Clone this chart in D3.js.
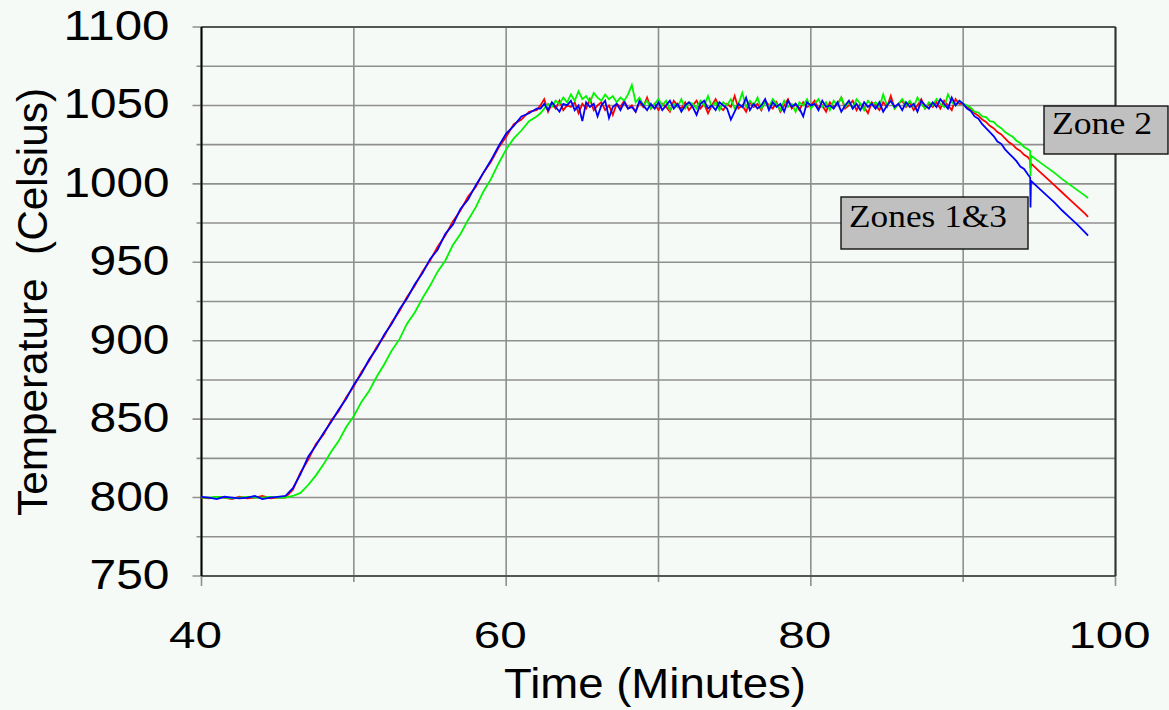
<!DOCTYPE html>
<html lang="en">
<head>
<meta charset="UTF-8">
<title>Furnace Zone Temperatures</title>
<script src="https://d3js.org/d3.v7.min.js"></script>
<style>
  html, body { margin: 0; padding: 0; background: #f6faf7; }
  svg { display: block; }
  .lbl { font-family: "Liberation Sans", Arial, sans-serif; fill: #000; }
  .zone { font-family: "Liberation Serif", "Times New Roman", serif; font-size: 31px; fill: #000; }
  .trace { fill: none; stroke-width: 1.8px; stroke-linejoin: miter; }
</style>
</head>
<body>
<svg width="1169" height="710"></svg>
<script>
// sample times (minutes)
const minutes = [
  40, 40.5, 41, 41.5, 42, 42.5, 43, 43.5, 44, 44.5, 45,
  45.5, 46, 46.5, 47, 47.5, 48, 48.5, 49, 49.5, 50,
  50.5, 51, 51.5, 52, 52.5, 53, 53.5, 54, 54.5, 55,
  55.5, 56, 56.5, 57, 57.5, 58, 58.5, 59, 59.5, 60,
  60.5, 61, 61.5, 62,
  62.25, 62.5, 62.75, 63, 63.25, 63.5, 63.75, 64,
  64.25, 64.5, 64.75, 65, 65.25, 65.5, 65.75, 66,
  66.25, 66.5, 66.75, 67, 67.25, 67.5, 67.75, 68,
  68.25, 68.5, 68.75, 69, 69.25, 69.5, 69.75, 70,
  70.25, 70.5, 70.75, 71, 71.25, 71.5, 71.75, 72,
  72.25, 72.5, 72.75, 73, 73.25, 73.5, 73.75, 74,
  74.25, 74.5, 74.75, 75, 75.25, 75.5, 75.75, 76,
  76.25, 76.5, 76.75, 77, 77.25, 77.5, 77.75, 78,
  78.25, 78.5, 78.75, 79, 79.25, 79.5, 79.75, 80,
  80.25, 80.5, 80.75, 81, 81.25, 81.5, 81.75, 82,
  82.25, 82.5, 82.75, 83, 83.25, 83.5, 83.75, 84,
  84.25, 84.5, 84.75, 85, 85.25, 85.5, 85.75, 86,
  86.25, 86.5, 86.75, 87, 87.25, 87.5, 87.75, 88,
  88.25, 88.5, 88.75, 89, 89.25, 89.5, 89.75, 90,
  90.25, 90.5, 90.75, 91, 91.25, 91.5, 91.75, 92,
  92.25, 92.5, 92.75, 93, 93.25, 93.5, 93.75, 94, 94.25,
  94.4, 94.42, 94.45, 95, 95.5, 96, 96.5, 97, 97.5, 98, 98.2
];

// zone 1 (red)
const zone1 = [
  800, 799.5, 800.5, 800, 799, 800.5, 799.5, 800, 801, 799.5, 800,
  800, 805, 816, 824, 834, 840, 849, 855, 864, 871,
  880, 887, 896, 903, 912, 919, 928, 935, 944, 951,
  960, 967, 976, 983, 992, 998, 1007, 1014, 1023, 1030,
  1038, 1041, 1046, 1047,
  1050, 1054, 1046, 1051, 1048, 1053, 1047, 1050,
  1049, 1052, 1045, 1051, 1048, 1054, 1047, 1050,
  1052, 1047, 1050, 1044, 1051, 1049, 1053, 1048,
  1050, 1046, 1052, 1049, 1055, 1048, 1051, 1047,
  1051, 1049, 1046, 1053, 1050, 1048, 1052, 1047,
  1050, 1053, 1048, 1051, 1045, 1050, 1054, 1049,
  1047, 1051, 1049, 1056, 1048, 1050, 1046, 1052,
  1049, 1051, 1047, 1053, 1050, 1048, 1052, 1046,
  1050, 1054, 1048, 1051, 1047, 1052, 1049, 1050,
  1053, 1048, 1050, 1046, 1052, 1049, 1051, 1055,
  1048, 1050, 1053, 1047, 1051, 1049, 1045, 1052,
  1050, 1047, 1052, 1049, 1056, 1048, 1051, 1053,
  1049, 1052, 1047, 1050, 1054, 1048, 1051, 1049,
  1052, 1048, 1053, 1050, 1047, 1054, 1051, 1051,
  1049, 1047.5, 1045, 1043.5, 1041, 1039.5, 1037, 1035.5,
  1033, 1031.5, 1029, 1026.5, 1025, 1022.5, 1021, 1018.5, 1017,
  1015, 1010, 1013, 1008, 1003.5, 999, 994.5, 990, 985.5, 981, 979
];

// zone 2 (green)
const zone2 = [
  800, 800, 800.5, 800, 799.5, 800, 800.5, 800, 800, 800.5, 800,
  800, 801, 803, 808, 814, 821, 829, 836, 845, 852,
  861, 868, 877, 885, 894, 901, 911, 918, 927, 935,
  944, 951, 961, 968, 977, 985, 995, 1003, 1013, 1022,
  1029, 1034, 1040, 1043,
  1045, 1048, 1051, 1049, 1053, 1051, 1055, 1052,
  1057, 1053, 1059, 1054, 1056, 1052, 1058, 1055,
  1053, 1057, 1054, 1056, 1052, 1055, 1053, 1057,
  1063, 1052, 1055, 1050, 1053, 1048, 1051, 1054,
  1050, 1053, 1047, 1051, 1049, 1054, 1048, 1052,
  1051, 1048, 1053, 1050, 1056, 1049, 1052, 1047,
  1052, 1050, 1054, 1048, 1051, 1058, 1049, 1053,
  1050, 1055, 1048, 1052, 1049, 1054, 1051, 1047,
  1053, 1049, 1051, 1046, 1052, 1050, 1054, 1048,
  1051, 1054, 1049, 1052, 1047, 1053, 1050, 1055,
  1049, 1052, 1048, 1054, 1051, 1047, 1053, 1050,
  1052, 1049, 1057, 1050, 1053, 1048, 1051, 1054,
  1050, 1053, 1049, 1055, 1051, 1048, 1052, 1050,
  1054, 1051, 1049, 1057, 1052, 1050, 1053, 1051,
  1050, 1048.5, 1046, 1045.5, 1043, 1042.5, 1040, 1039.5,
  1037, 1035.5, 1033, 1031.5, 1030, 1027.5, 1026, 1023.5, 1022,
  1021, 1005, 1018, 1014, 1010.5, 1007, 1003, 999.5, 996, 992.5, 991
];

// zone 3 (blue)
const zone3 = [
  800.5, 800, 799, 800.5, 800, 799.5, 800, 801, 799, 800, 800.5,
  801, 806, 815, 826, 833, 841, 848, 856, 863, 872,
  879, 888, 895, 904, 911, 920, 927, 936, 943, 952,
  958, 968, 974, 984, 990, 999, 1007, 1015, 1024, 1032,
  1037, 1043, 1045, 1048,
  1048, 1051, 1047, 1052, 1049, 1046, 1051, 1050,
  1053, 1047, 1050, 1040, 1052, 1049, 1051, 1043,
  1050, 1053, 1042, 1049, 1051, 1047, 1052, 1048,
  1049, 1046, 1053, 1050, 1047, 1051, 1048, 1052,
  1047, 1050, 1053, 1048, 1051, 1046, 1050, 1052,
  1049, 1044, 1051, 1053, 1048, 1050, 1047, 1052,
  1050, 1048, 1041, 1046, 1051, 1049, 1055, 1047,
  1051, 1048, 1050, 1054, 1047, 1052, 1049, 1051,
  1046, 1053, 1049, 1051, 1048, 1043, 1052, 1050,
  1051, 1047, 1053, 1049, 1050, 1048, 1052, 1046,
  1050, 1053, 1048, 1051, 1047, 1052, 1049, 1051,
  1048, 1052, 1046, 1050, 1053, 1049, 1051, 1047,
  1052, 1049, 1051, 1046, 1053, 1050, 1048, 1052,
  1049, 1054, 1051, 1048, 1055, 1050, 1053, 1051,
  1048, 1046.5, 1043, 1041.5, 1038, 1035.5, 1033, 1030.5,
  1027, 1025.5, 1022, 1019.5, 1017, 1014.5, 1011, 1009.5, 1006,
  1004, 985, 1002, 997, 992.5, 988, 983, 978.5, 974, 969, 967
];

const tempLabels = [750, 800, 850, 900, 950, 1000, 1050, 1100];
const tempGrid = [750, 775, 800, 825, 850, 875, 900, 925, 950, 975, 1000, 1025, 1050, 1075, 1100];
const timeLabels = [40, 60, 80, 100];
const timeGrid = [40, 50, 60, 70, 80, 90, 100];

const series = [
  { name: "Zone 1", values: zone1, color: "#ff0000" },
  { name: "Zone 2", values: zone2, color: "#00f400" },
  { name: "Zone 3", values: zone3, color: "#0000ff" }
];

const notes = [
  { text: "Zone 2", x: 1044, y: 106, w: 124, h: 48, len: 100 },
  { text: "Zones 1&3", x: 841, y: 197, w: 187, h: 52, len: 158 }
];

const svg = d3.select("svg"),
      margin = {top: 27, right: 53.5, bottom: 134, left: 201.5},
      width = +svg.attr("width") - margin.left - margin.right,
      height = +svg.attr("height") - margin.top - margin.bottom,
      g = svg.append("g").attr("transform", `translate(${margin.left},${margin.top})`);

const x = d3.scaleLinear().domain([40, 100]).range([0, width]);
const y = d3.scaleLinear().domain([750, 1100]).range([height, 0]);

// grid
g.append("g").selectAll("line").data(tempGrid).join("line")
  .attr("x1", d => d % 50 === 0 ? -9 : -5).attr("x2", width)
  .attr("y1", d => y(d)).attr("y2", d => y(d))
  .attr("stroke", "#8f8f8f").attr("stroke-width", 1.6);

g.append("g").selectAll("line").data(timeGrid).join("line")
  .attr("x1", d => x(d)).attr("x2", d => x(d))
  .attr("y1", 0).attr("y2", d => d % 20 === 0 ? height + 10 : height + 6)
  .attr("stroke", "#8f8f8f").attr("stroke-width", 1.6);

// frame
g.append("line").attr("x1", 0).attr("x2", width).attr("y1", 0).attr("y2", 0)
  .attr("stroke", "#555").attr("stroke-width", 2);
g.append("line").attr("x1", 0).attr("x2", width).attr("y1", height).attr("y2", height)
  .attr("stroke", "#555").attr("stroke-width", 2);
g.append("line").attr("x1", width).attr("x2", width).attr("y1", 0).attr("y2", height)
  .attr("stroke", "#333").attr("stroke-width", 2);
g.append("line").attr("x1", 0).attr("x2", 0).attr("y1", 0).attr("y2", height)
  .attr("stroke", "#000").attr("stroke-width", 2);

// tick labels
g.append("g").selectAll("text").data(tempLabels).join("text")
  .attr("class", "lbl")
  .attr("x", -32).attr("y", d => y(d) + 13)
  .attr("text-anchor", "end")
  .attr("font-size", 42)
  .attr("textLength", d => String(d).length === 4 ? 106 : 80)
  .attr("lengthAdjust", "spacingAndGlyphs")
  .text(d => d);

g.append("g").selectAll("text").data(timeLabels).join("text")
  .attr("class", "lbl")
  .attr("x", d => x(d) - 6).attr("y", height + 72)
  .attr("text-anchor", "middle")
  .attr("font-size", 36)
  .attr("textLength", d => String(d).length === 3 ? 82 : 53)
  .attr("lengthAdjust", "spacingAndGlyphs")
  .text(d => d);

// axis titles
g.append("text").attr("class", "lbl")
  .attr("x", width / 2 - 3.5).attr("y", height + 122)
  .attr("text-anchor", "middle").attr("font-size", 42)
  .attr("textLength", 302).attr("lengthAdjust", "spacingAndGlyphs")
  .text("Time (Minutes)");

g.append("text").attr("class", "lbl")
  .attr("transform", `translate(-154.5,${height / 2 + 0.5}) rotate(-90)`)
  .attr("text-anchor", "middle").attr("font-size", 42)
  .attr("textLength", 428).attr("lengthAdjust", "spacingAndGlyphs")
  .style("white-space", "pre")
  .text("Temperature  (Celsius)");

// traces
const line = d3.line()
  .x((d, i) => x(minutes[i]))
  .y(d => y(d));

g.selectAll(".trace").data(series).join("path")
  .attr("class", "trace")
  .attr("stroke", d => d.color)
  .attr("d", d => line(d.values));

// zone notes
const note = svg.append("g").selectAll("g").data(notes).join("g");
note.append("rect")
  .attr("x", d => d.x).attr("y", d => d.y)
  .attr("width", d => d.w).attr("height", d => d.h)
  .attr("fill", "#c0c0c0").attr("stroke", "#111").attr("stroke-width", 1.4);
note.append("text").attr("class", "zone")
  .attr("x", d => d.x + 8).attr("y", d => d.y + 28 + (d.h - 48) / 2)
  .attr("textLength", d => d.len).attr("lengthAdjust", "spacingAndGlyphs")
  .text(d => d.text);
</script>
</body>
</html>
